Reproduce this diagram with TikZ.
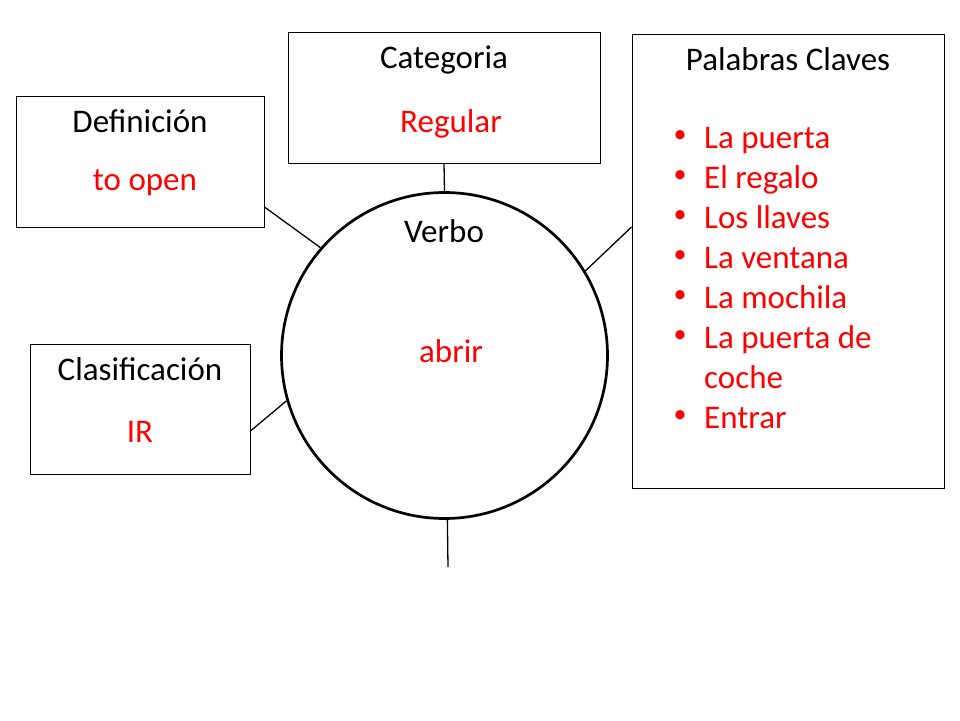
\documentclass[tikz,border=0pt]{standalone}
\usepackage{fontspec}
\setmainfont{Carlito}
\begin{document}
\begin{tikzpicture}[x=1pt,y=-1pt,
  box/.style={draw=black,line width=0.9pt,rectangle,inner sep=0pt,fill=white},
  txt/.style={inner sep=0pt,font=\fontsize{33}{40}\selectfont,text height=21pt,text depth=0pt},
  lbl/.style={txt,text=black},
  rlbl/.style={txt,text=red},
  item/.style={txt,anchor=west,text=red},
  bul/.style={inner sep=0pt,text=red,font=\fontsize{26}{30}\selectfont},
  conn/.style={draw=black,line width=1.3pt}]
\useasboundingbox (0,0) rectangle (960,720);
\fill[white] (0,0) rectangle (960,720);
% boxes
\node[box,minimum width=248pt,minimum height=131pt] (def) at (140,161.5) {};
\node[box,minimum width=312pt,minimum height=131pt] (cat) at (444,97.5) {};
\node[box,minimum width=312pt,minimum height=454pt] (pal) at (788,261) {};
\node[box,minimum width=220pt,minimum height=130pt] (cla) at (140,409) {};
\node[draw=black,line width=2.7pt,circle,minimum size=326pt,inner sep=0pt] (circ) at (444.5,355.5) {};
\coordinate (bend) at (448,567);
% connectors
\draw[conn] (cat.south) -- (circ.90);
\draw[conn] ([yshift=-45.5pt]def.east) -- (circ.139);
\draw[conn] ([yshift=34pt]pal.west) -- (circ.31);
\draw[conn] ([yshift=-22pt]cla.east) -- (circ.196.5);
\draw[conn] (circ.271.2) -- (bend);
% texts
\node[lbl] (tdef) at (140,122) {Definición};
\node[rlbl] (vdef) at (145,180) {to open};
\node[lbl] (tcat) at (444,58) {Categoria};
\node[rlbl] (vcat) at (451,122) {Regular};
\node[lbl] (tcla) at (140,370) {Clasificación};
\node[rlbl] (vcla) at (140,432) {IR};
\node[lbl] (tverb) at (444,232) {Verbo};
\node[rlbl] (vverb) at (451,352) {abrir};
\node[lbl] (tpal) at (788,60) {Palabras Claves};
\foreach \t/\y/\b [count=\i] in {La puerta/138/1,El regalo/178/1,Los llaves/218/1,La ventana/258/1,La mochila/298/1,La puerta de/338/1,coche/378/0,Entrar/418/1}{
  \node[item] (it\i) at (704,\y) {\t};
  \ifnum\b=1 \node[bul] (bu\i) at (680,{\y-1}) {•};\fi
}
\end{tikzpicture}
\end{document}
